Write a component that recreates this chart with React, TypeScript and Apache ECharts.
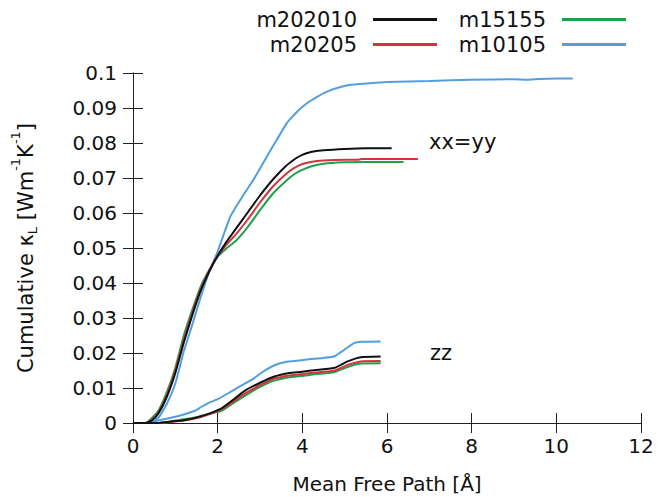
import React, { useEffect, useRef } from "react";
import * as echarts from "echarts";

// ---- data (x = mean free path [Å], y = cumulative kappa) ----
const names = ["m202010", "m20205", "m15155", "m10105"];
const colors = ["#111111", "#d3323f", "#1fa04a", "#529fe0"];

const xTicks = [0, 2, 4, 6, 8, 10, 12];

// xx = yy
const xxX_black = [0, 0.3, 0.45, 0.6, 0.8, 1.0, 1.2, 1.4, 1.6, 1.8, 2.0, 2.2, 2.45, 2.7, 3.0, 3.3, 3.6, 3.8, 3.9, 4.0, 4.2, 4.5, 5.0, 5.5, 6.0, 6.11];
const xxY_black = [0, 0, 0.0008, 0.0027, 0.0075, 0.0143, 0.023, 0.0308, 0.0378, 0.0433, 0.0478, 0.0516, 0.0558, 0.06, 0.065, 0.0695, 0.0733, 0.0752, 0.076, 0.0766, 0.0774, 0.0779, 0.0783, 0.0785, 0.0785, 0.0785];

const xxX_red = [0, 0.3, 0.45, 0.6, 0.8, 1.0, 1.2, 1.4, 1.6, 1.8, 2.0, 2.2, 2.45, 2.7, 3.0, 3.3, 3.6, 3.8, 4.0, 4.2, 4.5, 5.0, 5.3, 5.4, 6.0, 6.73];
const xxY_red = [0, 0, 0.001, 0.003, 0.008, 0.015, 0.0238, 0.0315, 0.0383, 0.0435, 0.0477, 0.0508, 0.0542, 0.058, 0.063, 0.0675, 0.071, 0.0728, 0.0740, 0.0746, 0.075, 0.0752, 0.0752, 0.0754, 0.0754, 0.0754];

const xxX_green = [0, 0.3, 0.45, 0.6, 0.8, 1.0, 1.2, 1.4, 1.6, 1.8, 2.0, 2.2, 2.45, 2.7, 3.0, 3.3, 3.6, 3.8, 4.0, 4.2, 4.5, 5.0, 5.5, 6.0, 6.39];
const xxY_green = [0, 0, 0.0015, 0.0035, 0.0088, 0.0158, 0.025, 0.0323, 0.039, 0.0437, 0.0475, 0.0498, 0.0523, 0.0558, 0.0608, 0.0655, 0.069, 0.071, 0.0723, 0.0733, 0.0741, 0.0745, 0.0746, 0.0746, 0.0746];

const xxX_blue = [0, 0.3, 0.45, 0.6, 0.8, 1.0, 1.2, 1.4, 1.6, 1.8, 2.0, 2.3, 2.6, 2.84, 3.16, 3.4, 3.63, 3.9, 4.1, 4.35, 4.58, 4.9, 5.2, 5.6, 6.0, 7.0, 8.0, 9.0, 9.3, 9.6, 10.0, 10.39];
const xxY_blue = [0, 0, 0.0003, 0.0015, 0.0055, 0.0113, 0.0205, 0.0281, 0.036, 0.0432, 0.049, 0.059, 0.065, 0.0694, 0.0761, 0.081, 0.0856, 0.0892, 0.0913, 0.0932, 0.0947, 0.096, 0.0967, 0.0971, 0.0974, 0.0977, 0.0981, 0.0982, 0.0981, 0.0983, 0.0984, 0.0984];

// zz
const zzX_black = [0, 0.6, 0.8, 1.2, 1.6, 2.08, 2.35, 2.63, 3.0, 3.34, 3.7, 3.96, 4.2, 4.75, 5.07, 5.38, 5.85];
const zzY_black = [0, 0, 0.0003, 0.0008, 0.0019, 0.0041, 0.0065, 0.0091, 0.0115, 0.0133, 0.0143, 0.0146, 0.015, 0.0157, 0.0176, 0.0188, 0.019];

const zzX_red = [0, 0.6, 0.8, 1.2, 1.6, 2.08, 2.35, 2.63, 3.0, 3.34, 3.7, 3.96, 4.2, 4.75, 5.07, 5.38, 5.85];
const zzY_red = [0, 0, 0.0002, 0.0007, 0.0017, 0.0038, 0.006, 0.0083, 0.0108, 0.0127, 0.0136, 0.0139, 0.0143, 0.0149, 0.0166, 0.0176, 0.0177];

const zzX_green = [0, 0.7, 1.0, 1.46, 1.85, 2.08, 2.35, 2.63, 3.0, 3.34, 3.7, 3.96, 4.2, 4.75, 5.07, 5.38, 5.85];
const zzY_green = [0, 0, 0.0007, 0.0016, 0.0028, 0.0034, 0.0055, 0.0077, 0.0103, 0.0121, 0.0131, 0.0134, 0.0138, 0.0145, 0.016, 0.017, 0.0171];

const zzX_blue = [0, 0.35, 0.5, 0.7, 1.08, 1.46, 1.6, 1.8, 2.0, 2.25, 2.5, 2.8, 3.05, 3.34, 3.6, 3.96, 4.2, 4.5, 4.75, 5.0, 5.22, 5.4, 5.85];
const zzY_blue = [0, 0, 0.0004, 0.001, 0.002, 0.0035, 0.0045, 0.0058, 0.0068, 0.0085, 0.0103, 0.0123, 0.0145, 0.0165, 0.0174, 0.0179, 0.0183, 0.0186, 0.019, 0.021, 0.0228, 0.0232, 0.0233];

const xxSets = [
  [xxX_black, xxY_black],
  [xxX_red, xxY_red],
  [xxX_green, xxY_green],
  [xxX_blue, xxY_blue],
];
const zzSets = [
  [zzX_black, zzY_black],
  [zzX_red, zzY_red],
  [zzX_green, zzY_green],
  [zzX_blue, zzY_blue],
];

const FONT = "DejaVu Sans";
const FS = 20;
const AXIS_COLOR = "#222";

function pairs(xs: number[], ys: number[]) {
  return xs.map((x, i) => [x, ys[i]]);
}

export default function App() {
  const ref = useRef<HTMLDivElement>(null);

  useEffect(() => {
    if (!ref.current) return;
    const chart = echarts.init(ref.current, undefined, { renderer: "svg" });

    const mkSeries = (sets: number[][][], tag: string) =>
      sets.map(([xs, ys], i) => ({
        type: "line",
        name: names[i],
        id: tag + i,
        data: pairs(xs, ys),
        showSymbol: false,
        smooth: 0.15,
        lineStyle: { color: colors[i], width: 2 },
        itemStyle: { color: colors[i] },
        z: 10 - i,
      }));

    const baseAxisCommon = {
      axisLine: { show: true, lineStyle: { color: AXIS_COLOR, width: 1 } },
      axisTick: { show: true, inside: true, length: 10, lineStyle: { color: AXIS_COLOR, width: 1 } },
      splitLine: { show: false },
    };

    const legendCommon = {
      orient: "vertical",
      align: "right",
      top: 9,
      padding: 0,
      itemGap: 4,
      itemWidth: 64,
      itemHeight: 3,
      icon: "rect",
      textStyle: { fontFamily: FONT, fontSize: 21, color: "#111", padding: [0, 11, 0, 0] },
    };

    const option: any = {
      animation: false,
      backgroundColor: "#ffffff",
      textStyle: { fontFamily: FONT },
      grid: { left: 133, right: 31, top: 73, bottom: 74, containLabel: false, outerBoundsMode: "none" },
      legend: [
        { ...legendCommon, data: [names[0], names[1]], right: 235 },
        { ...legendCommon, data: [names[2], names[3]], right: 46 },
      ],
      xAxis: [
        {
          type: "value",
          min: xTicks[0],
          max: xTicks[xTicks.length - 1],
          interval: 2,
          position: "bottom",
          ...baseAxisCommon,
          axisLabel: { fontFamily: FONT, fontSize: FS, color: "#111", margin: 13 },
          name: "Mean Free Path [Å]",
          nameLocation: "middle",
          nameGap: 51,
          nameTextStyle: { fontFamily: FONT, fontSize: FS, color: "#111" },
        },
        {
          type: "value",
          min: xTicks[0],
          max: xTicks[xTicks.length - 1],
          interval: 2,
          position: "top",
          ...baseAxisCommon,
          axisLabel: { show: false },
        },
      ],
      yAxis: [
        {
          type: "value",
          min: 0,
          max: 0.1,
          interval: 0.01,
          position: "left",
          ...baseAxisCommon,
          axisLabel: {
            fontFamily: FONT,
            fontSize: FS,
            color: "#111",
            margin: 16,
            formatter: (v: number) => String(+v.toFixed(2)),
          },
          name: "{a|Cumulative κ}{sub|L}{a| [Wm}{sup|-1}{a|K}{sup|-1}{a|]}",
          nameLocation: "middle",
          nameGap: 97,
          nameRotate: 90,
          nameTextStyle: {
            fontFamily: FONT,
            fontSize: 21,
            color: "#111",
            rich: {
              a: { fontFamily: FONT, fontSize: 21, color: "#111", verticalAlign: "bottom", lineHeight: 27 },
              sub: { fontFamily: FONT, fontSize: 13, color: "#111", verticalAlign: "bottom", lineHeight: 27, padding: [0, 0, -3, 0] },
              sup: { fontFamily: FONT, fontSize: 13, color: "#111", verticalAlign: "top", lineHeight: 27 },
            },
          },
        },
        {
          type: "value",
          min: 0,
          max: 0.1,
          interval: 0.01,
          position: "right",
          ...baseAxisCommon,
          axisLabel: { show: false },
        },
      ],
      graphic: [
        {
          type: "text",
          left: 429,
          top: 131,
          style: { text: "xx=yy", fontFamily: FONT, fontSize: 21, fill: "#111" },
        },
        {
          type: "text",
          left: 430,
          top: 342,
          style: { text: "zz", fontFamily: FONT, fontSize: 21, fill: "#111" },
        },
      ],
      series: [...mkSeries(xxSets, "xx"), ...mkSeries(zzSets, "zz")],
    };

    chart.setOption(option);
    return () => chart.dispose();
  }, []);

  return <div ref={ref} style={{ position: "absolute", left: 0, top: 0, width: 672, height: 497 }} />;
}
